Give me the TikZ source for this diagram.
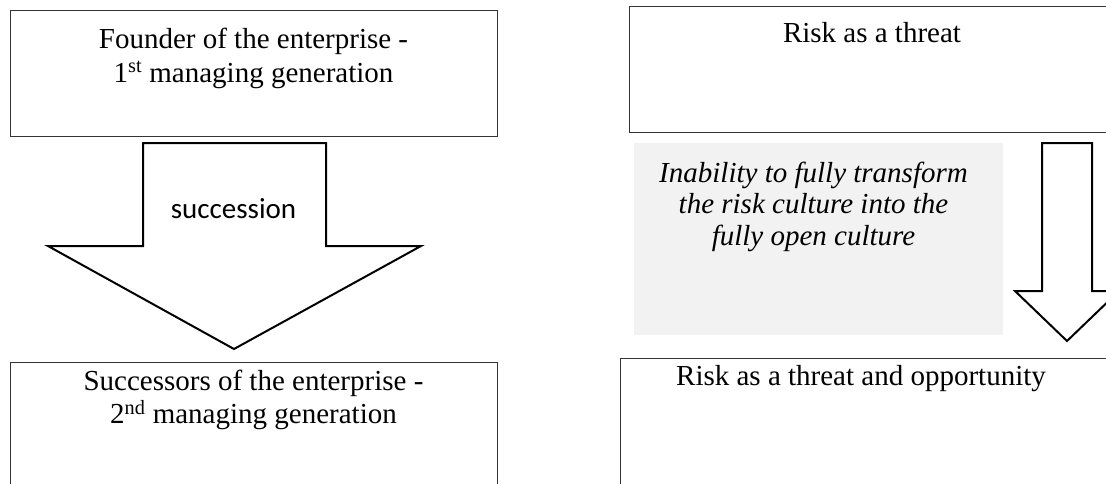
\documentclass[tikz,border=0pt]{standalone}
\usepackage{fontspec}
\setmainfont{Liberation Serif}
\newfontfamily\calibri{Carlito}
\usetikzlibrary{shapes}
\tikzstyle{bx}=[rectangle,draw=black!80,line width=1.3pt,anchor=north west,inner sep=0pt]
\tikzstyle{txt}=[align=center,inner sep=0pt,anchor=base,font=\fontsize{29}{33.5}\selectfont]
\tikzstyle{blk}=[draw=black,line width=2pt,fill=white,line join=miter]

\begin{document}
\begin{tikzpicture}[x=1pt,y=-1pt]
\useasboundingbox (0,0) rectangle (1106,483);
\clip (0,0) rectangle (1106,483);
% left side
\node[bx,minimum width=487pt,minimum height=126.5pt] (founder) at (10,9.5) {};
\node[txt] (foundertxt) at (253.5,82) {Founder of the enterprise -\\1\textsuperscript{st} managing generation};
\draw[blk] (143,143)--(326,143)--(326,246)--(421,246)--(234,349)--(48,246)--(143,246)--cycle;
\node[txt,font=\fontsize{29}{33.5}\calibri] (succ) at (233.5,218) {succession};
\node[bx,minimum width=487pt,minimum height=200pt] (successors) at (10,362) {};
\node[txt] (successorstxt) at (253.5,423.5) {Successors of the enterprise -\\2\textsuperscript{nd} managing generation};
% right side
\node[bx,minimum width=490pt,minimum height=126pt] (threat) at (629,6) {};
\node[txt] (threattxt) at (872,42.7) {Risk as a threat};
\node[rectangle,fill=black!5,anchor=north west,minimum width=369pt,minimum height=192pt] (gap) at (634,143) {};
\node[txt,font=\fontsize{29}{31.5}\selectfont\itshape] (gaptxt) at (813.5,245) {Inability to fully transform\\the risk culture into the\\fully open culture};
\draw[blk] (1042,143)--(1092,143)--(1092,291)--(1119,291)--(1067,341)--(1015,291)--(1042,291)--cycle;
\node[bx,minimum width=490pt,minimum height=200pt] (opport) at (620,358) {};
\node[txt] (opporttxt) at (861,385) {Risk as a threat and opportunity};
\end{tikzpicture}
\end{document}
